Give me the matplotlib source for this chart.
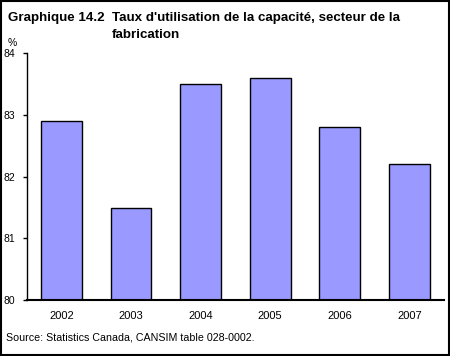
import matplotlib
matplotlib.use("Agg")
import matplotlib.pyplot as plt
from matplotlib.patches import Rectangle

years = ["2002", "2003", "2004", "2005", "2006", "2007"]
rates = [82.9, 81.5, 83.5, 83.6, 82.8, 82.2]
yticks = [80, 81, 82, 83, 84]

plt.rcParams['font.family'] = ['Liberation Sans', 'DejaVu Sans']

fig = plt.figure(figsize=(4.5, 3.56), dpi=100)
ax = fig.add_axes([0.059, 0.157, 0.928, 0.693])

x = range(len(years))
ax.bar(x, [r - 80 for r in rates], bottom=80, width=0.585,
       color='#9999FF', edgecolor='black', linewidth=1)

ax.set_xlim(-0.5, len(years) - 0.5)
ax.set_ylim(80, 84)
ax.set_yticks(yticks)
ax.set_yticklabels([str(t) for t in yticks], fontsize=7.5)
ax.set_xticks(list(x))
ax.set_xticklabels(years, fontsize=8)
ax.tick_params(axis='x', length=0, pad=8)
ax.tick_params(axis='y', length=3, width=1, pad=5)
for s in ['top', 'right']:
    ax.spines[s].set_visible(False)
ax.spines['bottom'].set_linewidth(1.5)
ax.spines['left'].set_linewidth(1)

# title, two parts on the same baseline
title_y = 1 - 21 / 356
fig.text(0.018, title_y, "Graphique 14.2", fontsize=9.6, fontweight='bold', va='baseline')
fig.text(0.249, title_y, "Taux d'utilisation de la capacité, secteur de la",
         fontsize=9.6, fontweight='bold', va='baseline')
fig.text(0.249, 1 - 38 / 356, "fabrication", fontsize=9.6, fontweight='bold', va='baseline')
fig.text(0.018, 1 - 43 / 356, "%", fontsize=7.5, va='center')
fig.text(0.013, 1 - 337 / 356, "Source: Statistics Canada, CANSIM table 028-0002.",
         fontsize=7.7, va='center')

fig.add_artist(Rectangle((0.002, 0.003), 0.996, 0.994, transform=fig.transFigure,
                         fill=False, edgecolor='black', linewidth=1.5))

fig.savefig("out.png", dpi=100)
